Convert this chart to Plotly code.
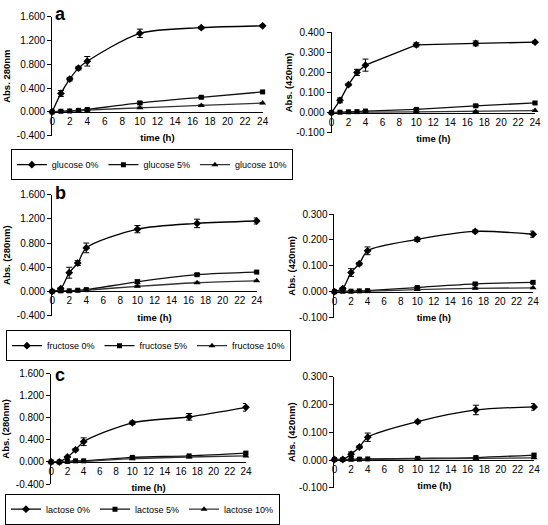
import plotly.graph_objects as go

W, H = 548, 525

# ---------------- data ----------------
time_h = [0, 1, 2, 3, 4, 10, 17, 24]
x_ticks = [0, 2, 4, 6, 8, 10, 12, 14, 16, 18, 20, 22, 24]
y_ticks_280 = [-0.4, 0.0, 0.4, 0.8, 1.2, 1.6]
y_ticks_420a = [-0.1, 0.0, 0.1, 0.2, 0.3, 0.4]
y_ticks_420bc = [-0.1, 0.0, 0.1, 0.2, 0.3]

# glucose
glu280_0 = [0.0, 0.31, 0.55, 0.735, 0.85, 1.32, 1.415, 1.445]
glu280_0_err = [0.0, 0.05, 0.03, 0.03, 0.08, 0.07, 0.02, 0.02]
glu280_5 = [0.0, 0.01, 0.015, 0.025, 0.04, 0.15, 0.245, 0.335]
glu280_5_err = [0.0, 0.005, 0.005, 0.005, 0.01, 0.02, 0.015, 0.015]
glu280_10 = [0.0, 0.005, 0.01, 0.02, 0.03, 0.068, 0.108, 0.147]
glu280_10_err = [0.0, 0.005, 0.005, 0.005, 0.005, 0.01, 0.01, 0.01]

glu420_0 = [0.0, 0.061, 0.139, 0.2, 0.236, 0.337, 0.344, 0.35]
glu420_0_err = [0.0, 0.012, 0.005, 0.015, 0.03, 0.01, 0.012, 0.006]
glu420_5 = [0.0, 0.002, 0.004, 0.005, 0.008, 0.016, 0.034, 0.048]
glu420_5_err = [0.0, 0.001, 0.001, 0.001, 0.002, 0.004, 0.005, 0.005]
glu420_10 = [0.0, 0.001, 0.001, 0.002, 0.003, 0.004, 0.006, 0.01]
glu420_10_err = [0.0, 0.001, 0.001, 0.001, 0.001, 0.001, 0.002, 0.003]

# fructose
fru280_0 = [0.0, 0.045, 0.31, 0.47, 0.72, 1.03, 1.125, 1.165]
fru280_0_err = [0.0, 0.02, 0.09, 0.04, 0.08, 0.06, 0.07, 0.05]
fru280_5 = [0.0, 0.01, 0.01, 0.02, 0.03, 0.16, 0.277, 0.32]
fru280_5_err = [0.0, 0.005, 0.005, 0.005, 0.01, 0.03, 0.02, 0.015]
fru280_10 = [0.0, 0.005, 0.005, 0.01, 0.02, 0.085, 0.144, 0.176]
fru280_10_err = [0.0, 0.005, 0.005, 0.005, 0.005, 0.01, 0.01, 0.01]

fru420_0 = [0.0, 0.012, 0.074, 0.108, 0.158, 0.202, 0.233, 0.222]
fru420_0_err = [0.0, 0.004, 0.015, 0.005, 0.015, 0.008, 0.005, 0.012]
fru420_5 = [0.0, 0.002, 0.002, 0.003, 0.004, 0.016, 0.03, 0.036]
fru420_5_err = [0.0, 0.001, 0.001, 0.001, 0.002, 0.003, 0.004, 0.004]
fru420_10 = [0.0, 0.0, 0.0, 0.001, 0.002, 0.008, 0.013, 0.015]
fru420_10_err = [0.0, 0.001, 0.001, 0.001, 0.001, 0.002, 0.002, 0.002]

# lactose
lac280_0 = [0.0, 0.0, 0.09, 0.22, 0.367, 0.71, 0.818, 0.99]
lac280_0_err = [0.0, 0.005, 0.01, 0.02, 0.07, 0.03, 0.06, 0.07]
lac280_5 = [0.0, 0.0, 0.01, 0.02, 0.02, 0.083, 0.11, 0.16]
lac280_5_err = [0.0, 0.002, 0.004, 0.005, 0.005, 0.01, 0.01, 0.02]
lac280_10 = [0.0, 0.0, 0.005, 0.01, 0.01, 0.06, 0.09, 0.11]
lac280_10_err = [0.0, 0.002, 0.003, 0.004, 0.004, 0.008, 0.01, 0.01]

lac420_0 = [0.002, 0.002, 0.021, 0.047, 0.082, 0.138, 0.18, 0.191]
lac420_0_err = [0.0, 0.001, 0.008, 0.004, 0.015, 0.005, 0.017, 0.012]
lac420_5 = [0.002, 0.002, 0.003, 0.003, 0.004, 0.006, 0.009, 0.018]
lac420_5_err = [0.0, 0.001, 0.001, 0.001, 0.001, 0.002, 0.002, 0.004]
lac420_10 = [0.001, 0.001, 0.001, 0.002, 0.002, 0.004, 0.006, 0.008]
lac420_10_err = [0.0, 0.001, 0.001, 0.001, 0.001, 0.001, 0.002, 0.002]

sugars = ["glucose", "fructose", "lactose"]
levels = ["0%", "5%", "10%"]
panel_letters = ["a", "b", "c"]

# ---------------- layout helpers ----------------
FONT = "Liberation Sans, Arial, sans-serif"


def fx(px):
    return px / W


def fy(py):
    return 1 - py / H


# pixel boxes: (x0, x1, y_top_px, y_bottom_px)
panels = [
    dict(box=(50, 264, 11, 134), yr=(-0.4, 1.6), yt=y_ticks_280, title="Abs. 280nm",
         data=[(glu280_0, glu280_0_err), (glu280_5, glu280_5_err), (glu280_10, glu280_10_err)],
         sugar=0, legend=True, shape="spline", side="L"),
    dict(box=(334, 541, 27, 131), yr=(-0.1, 0.4), yt=y_ticks_420a, title="Abs. (420nm)",
         data=[(glu420_0, glu420_0_err), (glu420_5, glu420_5_err), (glu420_10, glu420_10_err)],
         sugar=0, legend=False, shape="linear", side="R"),
    dict(box=(50, 258, 195, 320), yr=(-0.4, 1.6), yt=y_ticks_280, title="Abs. (280nm)",
         data=[(fru280_0, fru280_0_err), (fru280_5, fru280_5_err), (fru280_10, fru280_10_err)],
         sugar=1, legend=True, shape="spline", side="L"),
    dict(box=(337, 539, 215, 322), yr=(-0.1, 0.3), yt=y_ticks_420bc, title="Abs. (420nm)",
         data=[(fru420_0, fru420_0_err), (fru420_5, fru420_5_err), (fru420_10, fru420_10_err)],
         sugar=1, legend=False, shape="spline", side="R"),
    dict(box=(49, 247, 380, 494), yr=(-0.4, 1.6), yt=y_ticks_280, title="Abs. (280nm)",
         data=[(lac280_0, lac280_0_err), (lac280_5, lac280_5_err), (lac280_10, lac280_10_err)],
         sugar=2, legend=True, shape="spline", side="L"),
    dict(box=(337, 540, 383, 498), yr=(-0.1, 0.3), yt=y_ticks_420bc, title="Abs. (420nm)",
         data=[(lac420_0, lac420_0_err), (lac420_5, lac420_5_err), (lac420_10, lac420_10_err)],
         sugar=2, legend=False, shape="spline", side="R"),
]

legend_boxes = [(8, 148), (3, 335), (2, 504)]

symbols = ["diamond", "square", "triangle-up"]
sizes = [6, 5, 6]
line_colors = ["#000000", "#111111", "#333333"]

fig = go.Figure()
layout = dict(
    width=W, height=H, margin=dict(l=0, r=0, t=0, b=0),
    paper_bgcolor="white", plot_bgcolor="white",
    font=dict(family=FONT, size=10, color="black"),
    annotations=[],
)

for i, p in enumerate(panels):
    n = "" if i == 0 else str(i + 1)
    xa, ya = "x" + n, "y" + n
    x0, x1, yt_px, yb_px = p["box"]
    ymin, ymax = p["yr"]
    ydom = [fy(yb_px), fy(yt_px)]
    zero_pos = ydom[0] + (0 - ymin) / (ymax - ymin) * (ydom[1] - ydom[0])
    leg_name = None
    if p["legend"]:
        li = p["sugar"]
        leg_name = "legend" if li == 0 else "legend" + str(li + 1)
    for k, (vals, errs) in enumerate(p["data"]):
        tr = dict(
            x=time_h, y=vals, xaxis=xa, yaxis=ya, mode="lines+markers",
            name=f"{sugars[p['sugar']]} {levels[k]}",
            line=dict(color=line_colors[k], width=1.3, shape=p["shape"], smoothing=0.8),
            marker=dict(symbol=symbols[k], size=sizes[k], color="black"),
            error_y=dict(type="data", array=errs, visible=True, color="black",
                         thickness=1, width=3),
            cliponaxis=False,
            showlegend=p["legend"],
        )
        if leg_name:
            tr["legend"] = leg_name
        fig.add_trace(go.Scatter(**tr))

    layout["xaxis" + n] = dict(
        domain=[fx(x0), fx(x1)], range=[0, 24], anchor="free", position=zero_pos,
        tickvals=x_ticks, ticktext=[str(v) for v in x_ticks], ticks="",
        showline=True, linecolor="black", linewidth=1, showgrid=False, zeroline=False,
        tickfont=dict(size=10), fixedrange=True,
        title=dict(text="<b>time (h)</b>", font=dict(size=9.5), standoff=8),
    )
    layout["yaxis" + n] = dict(
        domain=ydom, range=[ymin, ymax], anchor=xa,
        tickvals=p["yt"], ticktext=[f"{v:.3f}" for v in p["yt"]],
        ticks="outside", ticklen=4, tickcolor="black",
        showline=True, linecolor="black", linewidth=1, showgrid=False, zeroline=False,
        tickfont=dict(size=10), fixedrange=True,
        title=dict(text=f"<b>{p['title']}</b>", font=dict(size=9.5),
                   standoff=4 if p["side"] == "L" else 1),
    )

for li, (lx, ly) in enumerate(legend_boxes):
    key = "legend" if li == 0 else "legend" + str(li + 1)
    layout[key] = dict(
        orientation="h", x=fx(lx), y=fy(ly), xanchor="left", yanchor="top",
        bordercolor="black", borderwidth=1, bgcolor="white",
        font=dict(size=9, family=FONT), itemwidth=30, tracegroupgap=0,
    )

for li, (letter, (px, py)) in enumerate(zip(panel_letters, [(51, 8), (51, 193), (51, 381)])):
    layout["annotations"].append(dict(
        text=f"<b>{letter}</b>", x=fx(px), y=fy(py), xref="paper", yref="paper",
        xanchor="left", yanchor="middle", showarrow=False, font=dict(size=18),
    ))

fig.update_layout(**layout)
fig.write_html("out.html", config={"displayModeBar": False},
               post_script="document.body.style.margin='0px';")
